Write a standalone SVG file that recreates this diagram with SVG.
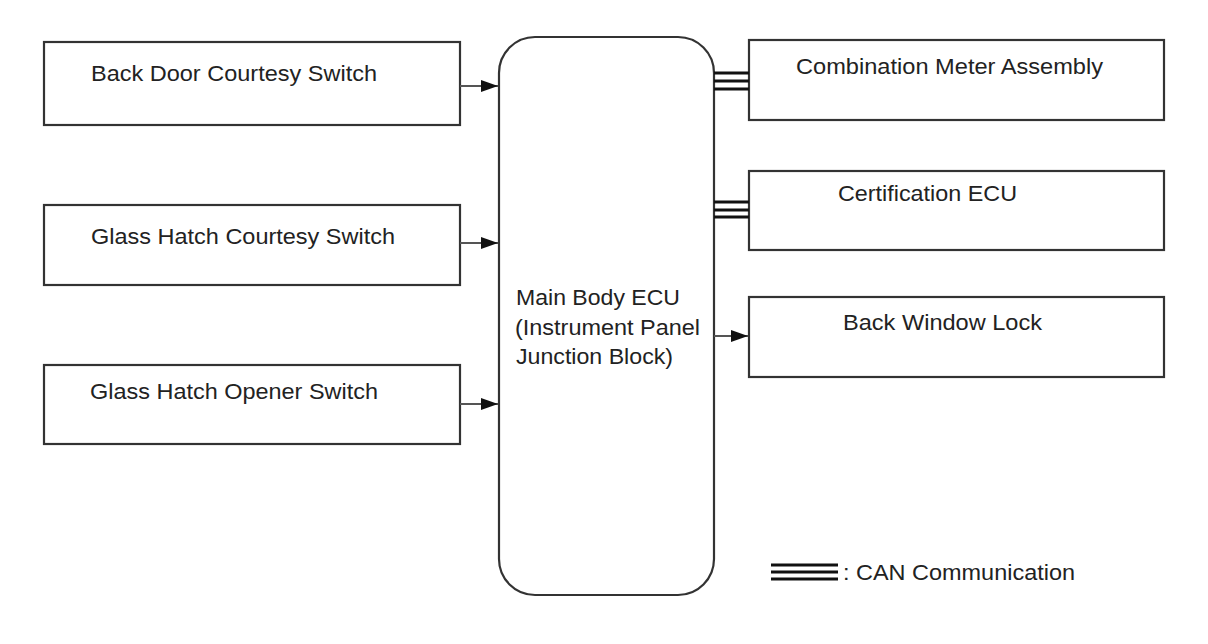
<svg xmlns="http://www.w3.org/2000/svg" width="1208" height="644" viewBox="0 0 1208 644">
<style>
.box{fill:#fff;stroke:#333;stroke-width:2.2}
.t{font-family:"Liberation Sans",Arial,sans-serif;font-size:22.5px;fill:#222}
.ln{stroke:#555;stroke-width:2;fill:none}
.can{stroke:#111;stroke-width:3}
</style>
<defs>
<marker id="ah" markerWidth="17" markerHeight="12" refX="17" refY="6" orient="auto" markerUnits="userSpaceOnUse">
<path d="M0,0 L17,6 L0,12 Z" fill="#111"/>
</marker>
</defs>
<rect width="1208" height="644" fill="#fff"/>
<g id="ecu"><rect class="box" x="499" y="37" width="215" height="558" rx="36" ry="36"/>
<text class="t" x="516" y="305" textLength="164" lengthAdjust="spacingAndGlyphs">Main Body ECU</text>
<text class="t" x="515" y="335" textLength="185" lengthAdjust="spacingAndGlyphs">(Instrument Panel</text>
<text class="t" x="516" y="364" textLength="157" lengthAdjust="spacingAndGlyphs">Junction Block)</text></g>
<g id="n1"><rect class="box" x="44" y="42" width="416" height="83"/><text class="t" x="91" y="81" textLength="286" lengthAdjust="spacingAndGlyphs">Back Door Courtesy Switch</text></g>
<g id="n2"><rect class="box" x="44" y="205" width="416" height="80"/><text class="t" x="91" y="244" textLength="304" lengthAdjust="spacingAndGlyphs">Glass Hatch Courtesy Switch</text></g>
<g id="n3"><rect class="box" x="44" y="365" width="416" height="79"/><text class="t" x="90" y="399" textLength="288" lengthAdjust="spacingAndGlyphs">Glass Hatch Opener Switch</text></g>
<g id="n4"><rect class="box" x="749" y="40" width="415" height="80"/><text class="t" x="796" y="74" textLength="307" lengthAdjust="spacingAndGlyphs">Combination Meter Assembly</text></g>
<g id="n5"><rect class="box" x="749" y="171" width="415" height="79"/><text class="t" x="838" y="201" textLength="179" lengthAdjust="spacingAndGlyphs">Certification ECU</text></g>
<g id="n6"><rect class="box" x="749" y="297" width="415" height="80"/><text class="t" x="843" y="330" textLength="199" lengthAdjust="spacingAndGlyphs">Back Window Lock</text></g>
<g id="connectors">
<line class="ln" x1="460" y1="86" x2="498" y2="86" marker-end="url(#ah)"/>
<line class="ln" x1="460" y1="243" x2="498" y2="243" marker-end="url(#ah)"/>
<line class="ln" x1="460" y1="404" x2="498" y2="404" marker-end="url(#ah)"/>
<line class="ln" x1="714" y1="336" x2="748" y2="336" marker-end="url(#ah)"/>
<line class="can" x1="714" y1="73" x2="749" y2="73"/>
<line class="can" x1="714" y1="81" x2="749" y2="81"/>
<line class="can" x1="714" y1="89" x2="749" y2="89"/>
<line class="can" x1="714" y1="202" x2="749" y2="202"/>
<line class="can" x1="714" y1="210" x2="749" y2="210"/>
<line class="can" x1="714" y1="217" x2="749" y2="217"/>
</g>
<g id="legend">
<line class="can" x1="771" y1="565" x2="838" y2="565"/>
<line class="can" x1="771" y1="572" x2="838" y2="572"/>
<line class="can" x1="771" y1="579" x2="838" y2="579"/>
<text class="t" x="843" y="580" textLength="232" lengthAdjust="spacingAndGlyphs">: CAN Communication</text>
</g>
</svg>
